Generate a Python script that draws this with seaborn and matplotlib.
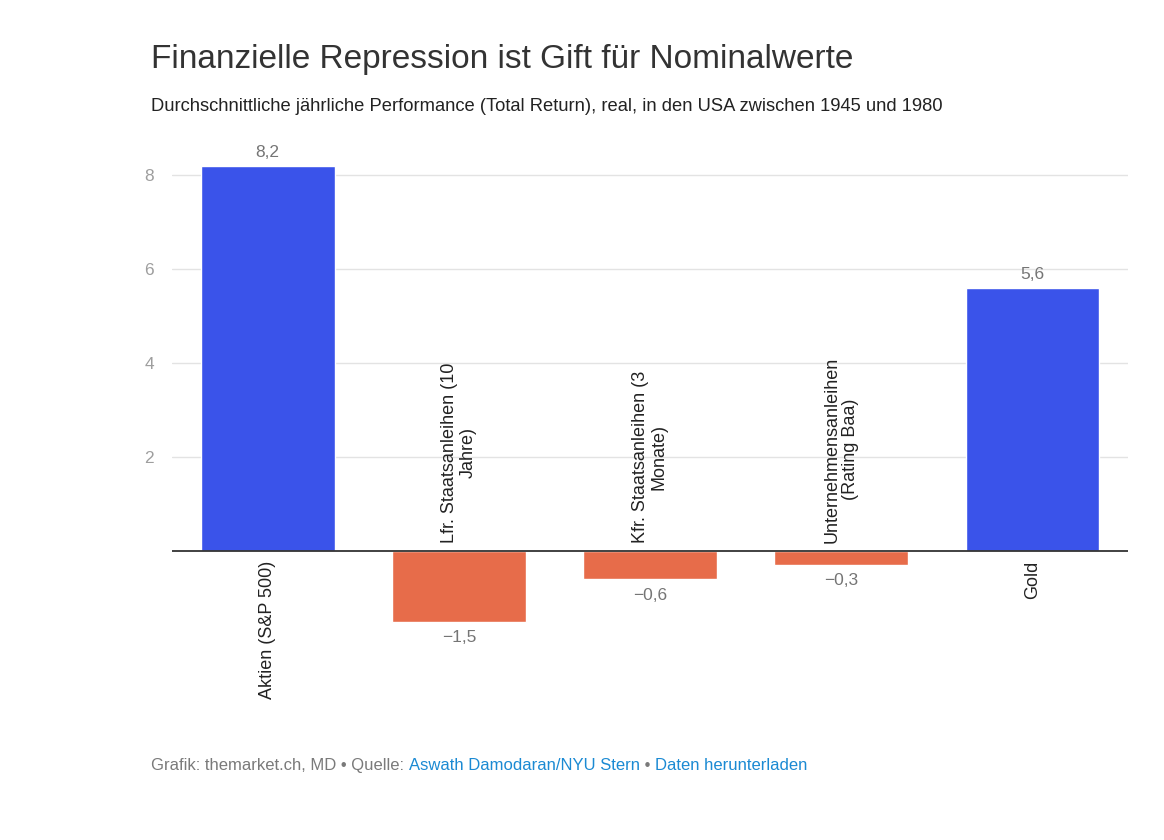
import matplotlib
matplotlib.use("Agg")
import matplotlib.pyplot as plt
import seaborn as sns

# data
categories = ["Aktien (S&P 500)", "Lfr. Staatsanleihen (10\nJahre)", "Kfr. Staatsanleihen (3\nMonate)",
              "Unternehmensanleihen\n(Rating Baa)", "Gold"]
values = [8.2, -1.5, -0.6, -0.3, 5.6]
value_labels = ["8,2", "\u22121,5", "\u22120,6", "\u22120,3", "5,6"]
y_ticks = [2, 4, 6, 8]

BLUE = "#3a53ea"
ORANGE = "#e76c4a"
colors = [BLUE if v >= 0 else ORANGE for v in values]

sns.set_theme(style="white")
plt.rcParams["font.family"] = ["Liberation Sans", "DejaVu Sans"]

fig = plt.figure(figsize=(11.64, 8.4), dpi=100)
ax = fig.add_axes([0.1478, 0.2545, 0.8213, 0.5707])

sns.barplot(x=categories, y=values, hue=categories, palette=colors, width=0.7,
            legend=False, ax=ax, saturation=1)

ax.set_xlim(-0.5, len(categories) - 0.5)
ax.set_ylim(-1.6, 8.6)
ax.set_yticks(y_ticks)
ax.set_yticklabels([str(t) for t in y_ticks], color="#9e9e9e", fontsize=12.5)
ax.tick_params(axis="y", length=0, pad=13)
ax.set_xticks([])
for s in ax.spines.values():
    s.set_visible(False)
ax.grid(axis="y", color="#e3e3e3", linewidth=1)
ax.set_axisbelow(True)
ax.axhline(0, color="#333333", linewidth=1.3, zorder=3)

for i, (v, lab, cat) in enumerate(zip(values, value_labels, categories)):
    if v >= 0:
        ax.annotate(lab, (i, v), xytext=(0, 4), textcoords="offset points",
                    ha="center", va="bottom", color="#757575", fontsize=12.5)
        ax.annotate(cat, (i, 0), xytext=(0, -7), textcoords="offset points",
                    ha="center", va="top", rotation=90, color="#222222", fontsize=13,
                    linespacing=1.1)
    else:
        ax.annotate(lab, (i, v), xytext=(0, -6), textcoords="offset points",
                    ha="center", va="top", color="#757575", fontsize=12.5)
        ax.annotate(cat, (i, 0), xytext=(0, 6), textcoords="offset points",
                    ha="center", va="bottom", rotation=90, color="#222222", fontsize=13,
                    linespacing=1.1)
ax.set_xlabel("")
ax.set_ylabel("")

fig.text(0.1297, 0.9286, "Finanzielle Repression ist Gift f\u00fcr Nominalwerte",
         fontsize=24, color="#333333", va="center", ha="left")
fig.text(0.1297, 0.8738, "Durchschnittliche j\u00e4hrliche Performance (Total Return), real, in den USA zwischen 1945 und 1980",
         fontsize=13.2, color="#222222", va="center", ha="left")

# footer with mixed colours
GRAY = "#7a7a7a"
LINK = "#1b8ad3"
parts = [("Grafik: themarket.ch, MD \u2022 Quelle: ", GRAY),
         ("Aswath Damodaran/NYU Stern", LINK),
         (" \u2022 ", GRAY),
         ("Daten herunterladen", LINK)]
renderer = fig.canvas.get_renderer()
x = 0.1297
for txt, col in parts:
    t = fig.text(x, 0.0881, txt, fontsize=12, color=col, va="center", ha="left")
    bb = t.get_window_extent(renderer=renderer)
    x += bb.width / fig.bbox.width

fig.savefig("out.png", dpi=100, facecolor="white")
